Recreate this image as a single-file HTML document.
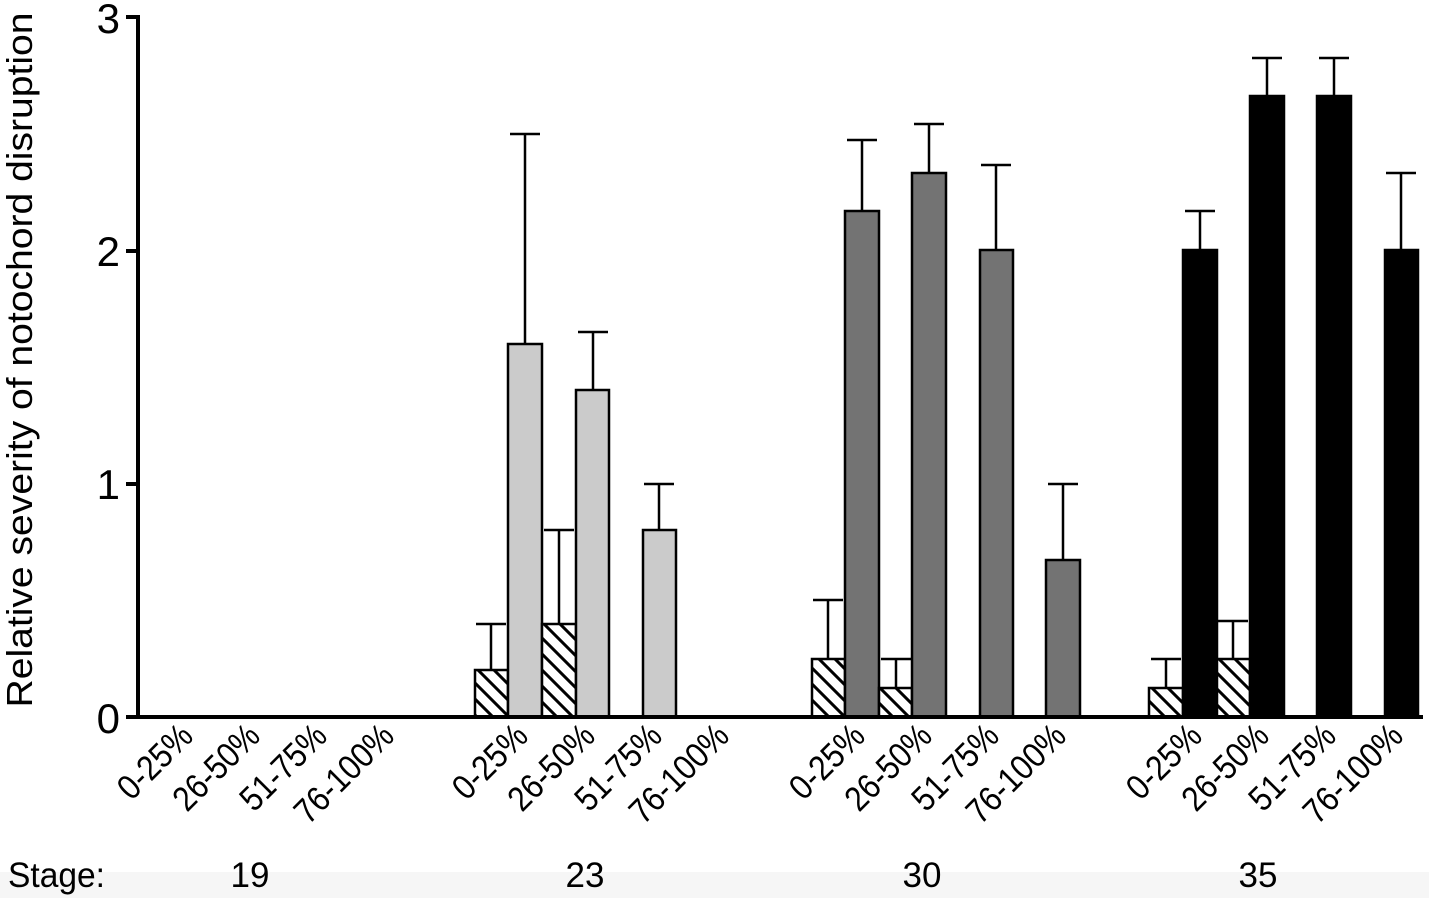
<!DOCTYPE html>
<html><head><meta charset="utf-8"><style>
html,body{margin:0;padding:0;background:#fff;}
svg{display:block;font-family:"Liberation Sans",Arial,sans-serif;}
</style></head><body>
<svg width="1429" height="898" viewBox="0 0 1429 898" xmlns="http://www.w3.org/2000/svg">
<defs>
<pattern id="h" patternUnits="userSpaceOnUse" width="16" height="16">
<rect width="16" height="16" fill="#fff"/>
<path d="M-4,-4 L20,20 M-4,12 L4,20 M12,-4 L20,4" stroke="#000" stroke-width="3"/>
</pattern>
</defs>
<rect x="0" y="872" width="1429" height="26" fill="#f6f6f6"/>
<g stroke="#000" stroke-width="2.5">
<rect x="475" y="670" width="33" height="47" fill="url(#h)"/>
<line x1="491" y1="670" x2="491" y2="624"/><line x1="476" y1="624" x2="506" y2="624"/>
<line x1="525" y1="344" x2="525" y2="134"/><line x1="510" y1="134" x2="540" y2="134"/>
<rect x="508" y="344" width="34" height="373" fill="#cbcbcb"/>
<rect x="542" y="624" width="34" height="93" fill="url(#h)"/>
<line x1="559" y1="624" x2="559" y2="530"/><line x1="544" y1="530" x2="574" y2="530"/>
<line x1="593" y1="390" x2="593" y2="332"/><line x1="578" y1="332" x2="608" y2="332"/>
<rect x="576" y="390" width="33" height="327" fill="#cbcbcb"/>
<line x1="659" y1="530" x2="659" y2="484"/><line x1="644" y1="484" x2="674" y2="484"/>
<rect x="643" y="530" width="33" height="187" fill="#cbcbcb"/>
<rect x="812" y="659" width="33" height="58" fill="url(#h)"/>
<line x1="828" y1="659" x2="828" y2="600"/><line x1="813" y1="600" x2="843" y2="600"/>
<line x1="862" y1="211" x2="862" y2="140"/><line x1="847" y1="140" x2="877" y2="140"/>
<rect x="845" y="211" width="34" height="506" fill="#737373"/>
<rect x="879" y="688" width="33" height="29" fill="url(#h)"/>
<line x1="896" y1="688" x2="896" y2="659"/><line x1="881" y1="659" x2="911" y2="659"/>
<line x1="929" y1="173" x2="929" y2="124"/><line x1="914" y1="124" x2="944" y2="124"/>
<rect x="912" y="173" width="34" height="544" fill="#737373"/>
<line x1="996" y1="250" x2="996" y2="165"/><line x1="981" y1="165" x2="1011" y2="165"/>
<rect x="980" y="250" width="33" height="467" fill="#737373"/>
<line x1="1063" y1="560" x2="1063" y2="484"/><line x1="1048" y1="484" x2="1078" y2="484"/>
<rect x="1046" y="560" width="34" height="157" fill="#737373"/>
<rect x="1149" y="688" width="34" height="29" fill="url(#h)"/>
<line x1="1166" y1="688" x2="1166" y2="659"/><line x1="1151" y1="659" x2="1181" y2="659"/>
<line x1="1200" y1="250" x2="1200" y2="211"/><line x1="1185" y1="211" x2="1215" y2="211"/>
<rect x="1183" y="250" width="34" height="467" fill="#000"/>
<rect x="1217" y="659" width="33" height="58" fill="url(#h)"/>
<line x1="1233" y1="659" x2="1233" y2="621"/><line x1="1218" y1="621" x2="1248" y2="621"/>
<line x1="1267" y1="96" x2="1267" y2="58"/><line x1="1252" y1="58" x2="1282" y2="58"/>
<rect x="1250" y="96" width="34" height="621" fill="#000"/>
<line x1="1334" y1="96" x2="1334" y2="58"/><line x1="1319" y1="58" x2="1349" y2="58"/>
<rect x="1317" y="96" width="34" height="621" fill="#000"/>
<line x1="1401" y1="250" x2="1401" y2="173"/><line x1="1386" y1="173" x2="1416" y2="173"/>
<rect x="1385" y="250" width="33" height="467" fill="#000"/>
</g>
<line x1="138" y1="15" x2="138" y2="719" stroke="#000" stroke-width="4"/>
<line x1="126" y1="717" x2="1423" y2="717" stroke="#000" stroke-width="4"/>
<g stroke="#000" stroke-width="4">
<line x1="126" y1="17" x2="138" y2="17"/><line x1="126" y1="251" x2="138" y2="251"/><line x1="126" y1="484" x2="138" y2="484"/>
</g>
<g font-size="42" text-anchor="end" fill="#000">
<text x="120" y="33">3</text><text x="120" y="266">2</text><text x="120" y="499">1</text><text x="120" y="733">0</text>
</g>
<text transform="translate(32,360) rotate(-90)" font-size="36" text-anchor="middle" textLength="695" lengthAdjust="spacingAndGlyphs">Relative severity of notochord disruption</text>
<g font-size="35" text-anchor="end">
<text transform="translate(195,738) rotate(-45)" textLength="90" lengthAdjust="spacingAndGlyphs">0-25%</text>
<text transform="translate(262,738) rotate(-45)" textLength="106" lengthAdjust="spacingAndGlyphs">26-50%</text>
<text transform="translate(329,738) rotate(-45)" textLength="106" lengthAdjust="spacingAndGlyphs">51-75%</text>
<text transform="translate(396,738) rotate(-45)" textLength="124" lengthAdjust="spacingAndGlyphs">76-100%</text>
<text transform="translate(530,738) rotate(-45)" textLength="90" lengthAdjust="spacingAndGlyphs">0-25%</text>
<text transform="translate(597,738) rotate(-45)" textLength="106" lengthAdjust="spacingAndGlyphs">26-50%</text>
<text transform="translate(664,738) rotate(-45)" textLength="106" lengthAdjust="spacingAndGlyphs">51-75%</text>
<text transform="translate(731,738) rotate(-45)" textLength="124" lengthAdjust="spacingAndGlyphs">76-100%</text>
<text transform="translate(867,738) rotate(-45)" textLength="90" lengthAdjust="spacingAndGlyphs">0-25%</text>
<text transform="translate(934,738) rotate(-45)" textLength="106" lengthAdjust="spacingAndGlyphs">26-50%</text>
<text transform="translate(1001,738) rotate(-45)" textLength="106" lengthAdjust="spacingAndGlyphs">51-75%</text>
<text transform="translate(1068,738) rotate(-45)" textLength="124" lengthAdjust="spacingAndGlyphs">76-100%</text>
<text transform="translate(1204,738) rotate(-45)" textLength="90" lengthAdjust="spacingAndGlyphs">0-25%</text>
<text transform="translate(1271,738) rotate(-45)" textLength="106" lengthAdjust="spacingAndGlyphs">26-50%</text>
<text transform="translate(1338,738) rotate(-45)" textLength="106" lengthAdjust="spacingAndGlyphs">51-75%</text>
<text transform="translate(1405,738) rotate(-45)" textLength="124" lengthAdjust="spacingAndGlyphs">76-100%</text>
</g>
<g font-size="35">
<text x="8" y="887" textLength="97" lengthAdjust="spacingAndGlyphs">Stage:</text>
<text x="250" y="887" text-anchor="middle">19</text>
<text x="585" y="887" text-anchor="middle">23</text>
<text x="922" y="887" text-anchor="middle">30</text>
<text x="1258" y="887" text-anchor="middle">35</text>
</g>
</svg>
</body></html>
